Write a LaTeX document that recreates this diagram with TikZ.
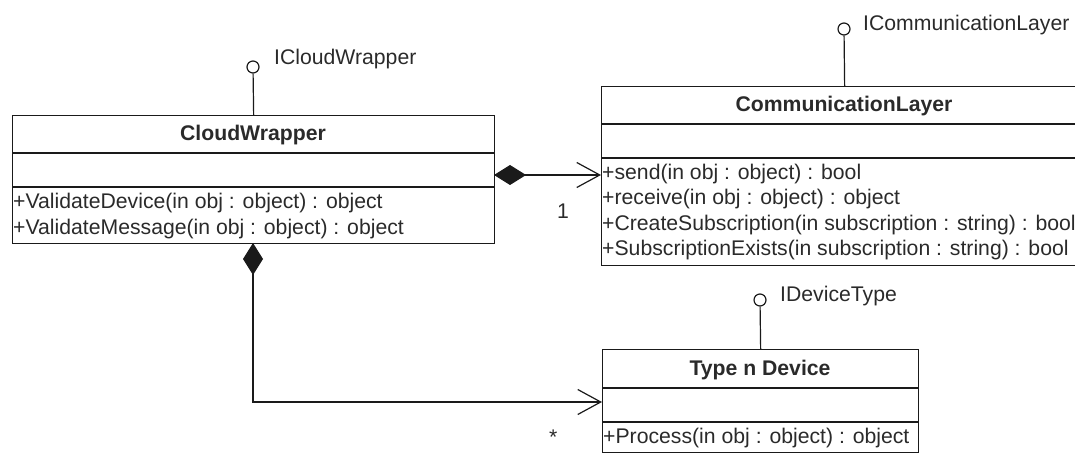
\documentclass[tikz,border=0pt]{standalone}
\usepackage{fontspec}
\setmainfont{Liberation Sans}
\usetikzlibrary{arrows.meta}
\definecolor{ln}{HTML}{1A1A1A}
\definecolor{tx}{HTML}{2A2A2A}
\tikzset{
  umlbox/.style={draw=ln, line width=1.3pt, anchor=north west, inner sep=0pt, rectangle},
  ttl/.style={anchor=base, inner sep=0pt, text=tx, font=\fontsize{21.2}{25}\selectfont\bfseries},
  mth/.style={anchor=base west, inner sep=0pt, text=tx, font=\fontsize{21.2}{25}\selectfont},
  lbl/.style={anchor=base west, inner sep=0pt, text=tx, font=\fontsize{21.2}{25}\selectfont},
  divider/.style={draw=ln, line width=1.3pt},
  lolli/.style={circle, draw=ln, line width=1.2pt, minimum size=12pt, inner sep=0pt, fill=white},
  lolline/.style={draw=ln, line width=1.2pt},
  comp/.style={draw=ln, line width=1.2pt, {Diamond[length=32pt,width=20pt]}-{Straight Barb[length=23pt,width=25pt,line width=1.2pt]}}
}
\begin{document}
\begin{tikzpicture}[x=1pt,y=-1pt]
\useasboundingbox (0,0) rectangle (1075,454);
% CloudWrapper
\node[umlbox, minimum width=482pt, minimum height=128pt] (cw) at (12,115) {};
\draw[divider] (12,153) -- (494,153);
\draw[divider] (12,187) -- (494,187);
\node[ttl] (cwt) at (253,141) {CloudWrapper};
\node[mth] (cwm1) at (13,209) {+ValidateDevice(in obj : object) : object};
\node[mth] (cwm2) at (13,234) {+ValidateMessage(in obj : object) : object};
% CommunicationLayer
\node[umlbox, minimum width=486pt, minimum height=179pt] (cl) at (601,86) {};
\draw[divider] (601,124) -- (1087,124);
\draw[divider] (601,158) -- (1087,158);
\node[ttl] (clt) at (844,112) {CommunicationLayer};
\node[mth] (clm1) at (602,180) {+send(in obj : object) : bool};
\node[mth] (clm2) at (602,205) {+receive(in obj : object) : object};
\node[mth] (clm3) at (602,230) {+CreateSubscription(in subscription : string) : bool};
\node[mth] (clm4) at (602,255) {+SubscriptionExists(in subscription : string) : bool};
% Type n Device
\node[umlbox, minimum width=316pt, minimum height=103pt] (td) at (602,349) {};
\draw[divider] (602,388) -- (918,388);
\draw[divider] (602,422) -- (918,422);
\node[ttl] (tdt) at (760,375) {Type n Device};
\node[mth] (tdm1) at (603,443) {+Process(in obj : object) : object};
% lollipops
\node[lolli] (i1) at (253,67) {};
\draw[lolline] (i1) -- (cw.north);
\node[lbl] (i1l) at (274,65) {ICloudWrapper};
\node[lolli] (i2) at (844,29) {};
\draw[lolline] (i2) -- (cl.north);
\node[lbl] (i2l) at (863,31) {ICommunicationLayer};
\node[lolli] (i3) at (760,300) {};
\draw[lolline] (i3) -- (td.north);
\node[lbl] (i3l) at (780,301) {IDeviceType};
% compositions
\coordinate (c1) at (494,175);
\draw[comp] (c1) -- (cl.west |- c1);
\node[lbl] (m1) at (557,219) {1};
\coordinate (c2) at (253,243);
\coordinate (c3) at (253,402);
\draw[comp] (c2) -- (c3) -- (td.west |- c3);
\node[lbl] (m2) at (549,444) {*};
\end{tikzpicture}
\end{document}
